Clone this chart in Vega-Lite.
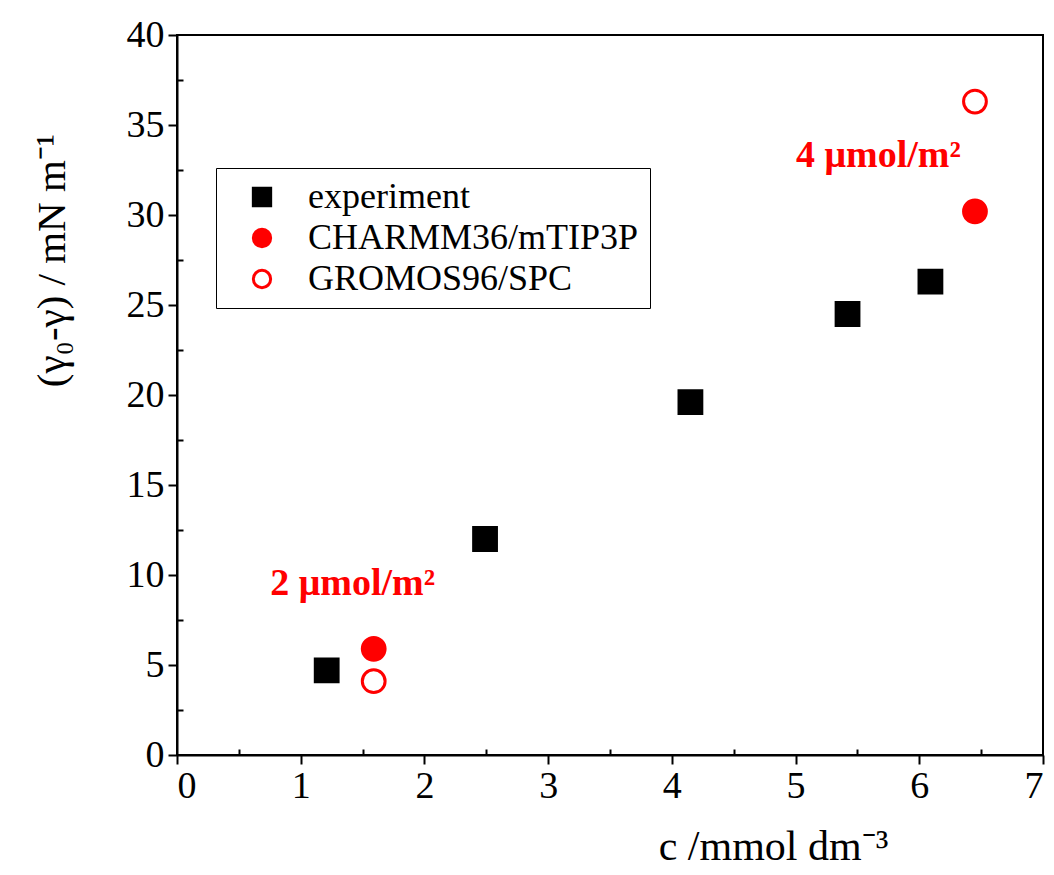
{
  "$schema": "https://vega.github.io/schema/vega-lite/v6.json",
  "width": 866,
  "height": 720,
  "autosize": {"type": "none"},
  "padding": {"left": 177, "top": 35, "right": 11, "bottom": 120},
  "background": "white",
  "config": {
    "font": "Liberation Serif",
    "view": {"stroke": "black", "strokeWidth": 2},
    "axis": {"grid": false, "domainColor": "black", "domainWidth": 2, "tickColor": "black", "tickWidth": 2, "labelColor": "black", "titleColor": "black", "labelFont": "Liberation Serif", "titleFont": "Liberation Serif", "titleFontWeight": "normal"}
  },
  "resolve": {"axis": {"x": "independent", "y": "independent"}},
  "datasets": {
    "pts": [
      {"series": "experiment", "c": 1.21, "g": 4.7},
      {"series": "experiment", "c": 2.49, "g": 12.0},
      {"series": "experiment", "c": 4.15, "g": 19.6},
      {"series": "experiment", "c": 5.42, "g": 24.5},
      {"series": "experiment", "c": 6.09, "g": 26.3},
      {"series": "CHARMM36/mTIP3P", "c": 1.59, "g": 5.9},
      {"series": "CHARMM36/mTIP3P", "c": 6.45, "g": 30.2},
      {"series": "GROMOS96/SPC", "c": 1.59, "g": 4.1},
      {"series": "GROMOS96/SPC", "c": 6.45, "g": 36.3}
    ],
    "notes": [
      {"label": "2 μmol/m²", "c": 1.42, "g": 9.5},
      {"label": "4 μmol/m²", "c": 5.67, "g": 33.3}
    ]
  },
  "layer": [
    {
      "data": {"name": "pts"},
      "mark": {"type": "point", "opacity": 0},
      "encoding": {
        "x": {"field": "c", "type": "quantitative", "scale": {"domain": [0, 7], "nice": false},
          "axis": {"orient": "bottom", "values": [0.5,1.5,2.5,3.5,4.5,5.5,6.5], "tickSize": -6, "labels": false, "domain": false, "title": null}},
        "y": {"field": "g", "type": "quantitative", "scale": {"domain": [0, 40], "nice": false},
          "axis": {"orient": "left", "values": [2.5,7.5,12.5,17.5,22.5,27.5,32.5,37.5], "tickSize": -6, "labels": false, "domain": false, "title": null}}
      }
    },
    {
      "layer": [
        {
          "data": {"name": "pts"},
          "mark": {"type": "point", "strokeWidth": 3, "opacity": 1, "size": 520},
          "encoding": {
            "x": {"field": "c", "type": "quantitative", "scale": {"domain": [0, 7], "nice": false},
              "axis": {"orient": "bottom", "values": [0,1,2,3,4,5,6,7], "format": "d", "tickSize": 9, "labelFontSize": 38, "labelPadding": 3, "title": "c /mmol dm⁻³", "titleFontSize": 42, "titleX": 596, "titleY": 104, "titleAnchor": "middle", "titleAlign": "center", "titleBaseline": "alphabetic"}},
            "y": {"field": "g", "type": "quantitative", "scale": {"domain": [0, 40], "nice": false},
              "axis": {"orient": "left", "values": [0,5,10,15,20,25,30,35,40], "tickSize": 9, "labelFontSize": 38, "labelPadding": 4, "title": "(γ₀-γ) / mN m⁻¹", "titleFontSize": 41, "titleX": -125, "titleY": 225, "titleAngle": -90, "titleAlign": "center", "titleBaseline": "middle"}},
            "shape": {"field": "series", "type": "nominal", "scale": {"domain": ["experiment", "CHARMM36/mTIP3P", "GROMOS96/SPC"], "range": ["square", "circle", "circle"]},
              "legend": {"title": null, "orient": "none", "legendX": 39, "legendY": 133, "labelFontSize": 36, "labelFont": "Liberation Serif", "labelColor": "black", "labelExpr": "datum.label + '\u2002'", "symbolSize": 300, "symbolStrokeWidth": 3, "rowPadding": 5, "labelOffset": 28, "padding": 11, "strokeColor": "black", "fillColor": "white", "symbolOffset": 17, "labelLimit": 600}},
            "fill": {"field": "series", "type": "nominal", "scale": {"domain": ["experiment", "CHARMM36/mTIP3P", "GROMOS96/SPC"], "range": ["black", "#ff0000", "white"]}, "legend": {"title": null}},
            "stroke": {"field": "series", "type": "nominal", "scale": {"domain": ["experiment", "CHARMM36/mTIP3P", "GROMOS96/SPC"], "range": ["black", "#ff0000", "#ff0000"]}, "legend": {"title": null}}
          }
        },
        {
          "data": {"name": "notes"},
          "mark": {"type": "text", "color": "#ff0000", "fontSize": 38, "fontWeight": "bold", "font": "Liberation Serif", "align": "center", "baseline": "middle"},
          "encoding": {
            "x": {"field": "c", "type": "quantitative"},
            "y": {"field": "g", "type": "quantitative"},
            "text": {"field": "label"}
          }
        }
      ]
    }
  ]
}
